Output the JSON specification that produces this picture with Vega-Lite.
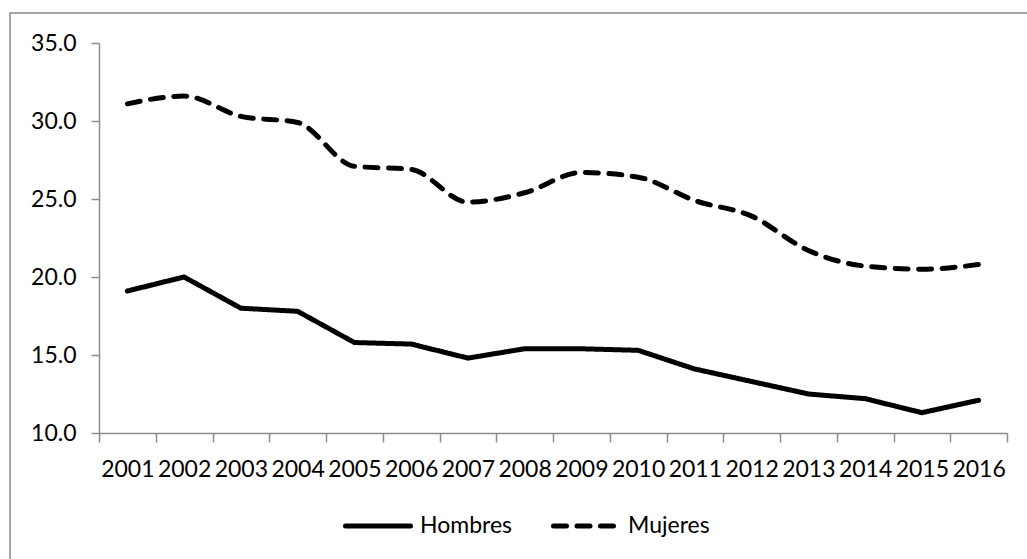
{
  "$schema": "https://vega.github.io/schema/vega-lite/v6.json",
  "width": 1017,
  "height": 546,
  "autosize": {"type": "none"},
  "padding": {"left": 10, "top": 13, "right": 0, "bottom": 0},
  "background": "white",
  "config": {
    "view": {"stroke": "#8c8c8c", "strokeWidth": 1.5, "strokeDash": [1017, 1563, 546, 10]},
    "font": "Lato"
  },
  "data": {
    "values": [
      {"anio": "2001", "sexo": "Hombres", "valor": 19.1},
      {"anio": "2002", "sexo": "Hombres", "valor": 20.0},
      {"anio": "2003", "sexo": "Hombres", "valor": 18.0},
      {"anio": "2004", "sexo": "Hombres", "valor": 17.8},
      {"anio": "2005", "sexo": "Hombres", "valor": 15.8},
      {"anio": "2006", "sexo": "Hombres", "valor": 15.7},
      {"anio": "2007", "sexo": "Hombres", "valor": 14.8},
      {"anio": "2008", "sexo": "Hombres", "valor": 15.4},
      {"anio": "2009", "sexo": "Hombres", "valor": 15.4},
      {"anio": "2010", "sexo": "Hombres", "valor": 15.3},
      {"anio": "2011", "sexo": "Hombres", "valor": 14.1},
      {"anio": "2012", "sexo": "Hombres", "valor": 13.3},
      {"anio": "2013", "sexo": "Hombres", "valor": 12.5},
      {"anio": "2014", "sexo": "Hombres", "valor": 12.2},
      {"anio": "2015", "sexo": "Hombres", "valor": 11.3},
      {"anio": "2016", "sexo": "Hombres", "valor": 12.1},
      {"anio": "2001", "sexo": "Mujeres", "valor": 31.1},
      {"anio": "2002", "sexo": "Mujeres", "valor": 31.6},
      {"anio": "2003", "sexo": "Mujeres", "valor": 30.3},
      {"anio": "2004", "sexo": "Mujeres", "valor": 29.9},
      {"anio": "2005", "sexo": "Mujeres", "valor": 27.1},
      {"anio": "2006", "sexo": "Mujeres", "valor": 26.9},
      {"anio": "2007", "sexo": "Mujeres", "valor": 24.8},
      {"anio": "2008", "sexo": "Mujeres", "valor": 25.4},
      {"anio": "2009", "sexo": "Mujeres", "valor": 26.7},
      {"anio": "2010", "sexo": "Mujeres", "valor": 26.4},
      {"anio": "2011", "sexo": "Mujeres", "valor": 24.9},
      {"anio": "2012", "sexo": "Mujeres", "valor": 23.9},
      {"anio": "2013", "sexo": "Mujeres", "valor": 21.7},
      {"anio": "2014", "sexo": "Mujeres", "valor": 20.7},
      {"anio": "2015", "sexo": "Mujeres", "valor": 20.5},
      {"anio": "2016", "sexo": "Mujeres", "valor": 20.8}
    ]
  },
  "encoding": {
    "x": {
      "field": "anio",
      "type": "ordinal",
      "scale": {"type": "band", "paddingInner": 0, "paddingOuter": 0, "range": [89, 997]},
      "axis": {
        "orient": "bottom",
        "offset": -126,
        "title": null,
        "labelAngle": 0,
        "tickBand": "extent",
        "tickSize": 9,
        "tickColor": "#8c8c8c",
        "tickWidth": 1.5,
        "domainColor": "#8c8c8c",
        "domainWidth": 1.5,
        "labelFont": "Lato",
        "labelFontSize": 23,
        "labelColor": "black",
        "labelPadding": 16,
        "grid": false
      }
    },
    "y": {
      "field": "valor",
      "type": "quantitative",
      "scale": {"domain": [10, 35], "range": [420, 30], "nice": false, "zero": false},
      "axis": {
        "orient": "left",
        "offset": -89,
        "title": null,
        "values": [10, 15, 20, 25, 30, 35],
        "format": ".1f",
        "tickSize": 8,
        "tickColor": "#8c8c8c",
        "tickWidth": 1.5,
        "domainColor": "#8c8c8c",
        "domainWidth": 1.5,
        "labelFont": "Lato",
        "labelFontSize": 23,
        "labelColor": "black",
        "labelPadding": 15,
        "grid": false
      }
    },
    "strokeDash": {
      "field": "sexo",
      "type": "nominal",
      "scale": {"domain": ["Hombres", "Mujeres"], "range": [[1, 0], [13, 10.5]]},
      "legend": {
        "orient": "none",
        "legendX": 333,
        "legendY": 478,
        "direction": "horizontal",
        "title": null,
        "symbolType": "stroke",
        "symbolSize": 4225,
        "symbolStrokeWidth": 5,
        "symbolStrokeColor": "black",
        "labelFont": "Lato",
        "labelFontSize": 23,
        "labelColor": "black",
        "labelOffset": 7,
        "columnPadding": 30,
        "encode": {"symbols": {"update": {"strokeCap": {"value": "round"}}}}
      }
    }
  },
  "layer": [
    {
      "transform": [{"filter": "datum.sexo === 'Hombres'"}],
      "mark": {"type": "line", "color": "black", "strokeWidth": 5, "strokeJoin": "round", "strokeCap": "round", "interpolate": "linear"}
    },
    {
      "transform": [{"filter": "datum.sexo === 'Mujeres'"}],
      "mark": {"type": "line", "color": "black", "strokeWidth": 5, "strokeJoin": "round", "strokeCap": "round", "interpolate": "monotone"}
    }
  ]
}
